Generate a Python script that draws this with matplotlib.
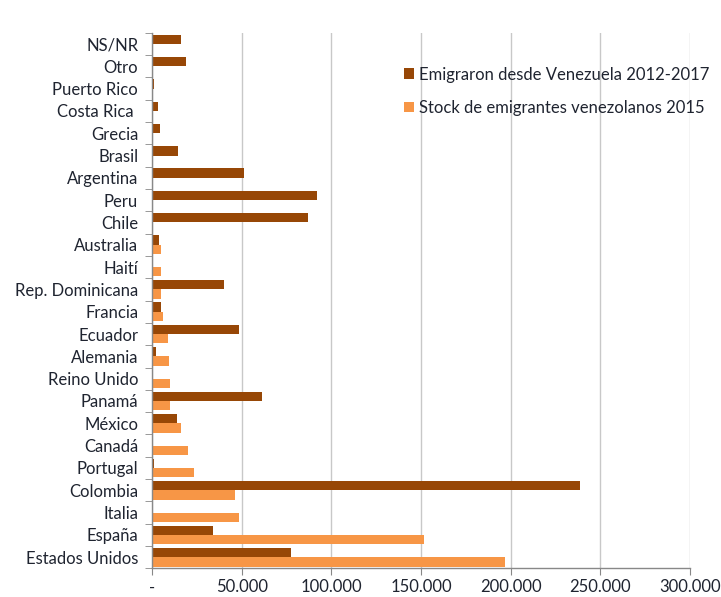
import numpy as np
import matplotlib.pyplot as plt
from matplotlib.ticker import FixedLocator

paises = ['NS/NR', 'Otro', 'Puerto Rico', 'Costa Rica ', 'Grecia', 'Brasil',
          'Argentina', 'Peru', 'Chile', 'Australia', 'Haití', 'Rep. Dominicana',
          'Francia', 'Ecuador', 'Alemania', 'Reino Unido', 'Panamá', 'México',
          'Canadá', 'Portugal', 'Colombia', 'Italia', 'España', 'Estados Unidos']

emigraron = [16000, 19000, 1000, 3000, 4500, 14500,
             51500, 92000, 87000, 4000, 0, 40000,
             5000, 48500, 2000, 0, 61500, 14000,
             0, 1000, 238500, 0, 33700, 77200]

stock_2015 = [0, 500, 500, 0, 0, 0,
              0, 0, 0, 5000, 5000, 5200,
              6000, 9000, 9200, 9800, 10000, 16000,
              19800, 23300, 46300, 48700, 151400, 197000]

xticks = [0, 50000, 100000, 150000, 200000, 250000, 300000]
xlabels = ['-', '50.000', '100.000', '150.000', '200.000', '250.000', '300.000']

plt.rcParams['font.family'] = ['Lato', 'DejaVu Sans']
txt = '#1f2430'
fs = 12

fig = plt.figure(figsize=(7.21, 5.97), dpi=100)
ax = fig.add_axes([0.211, 0.048, 0.746, 0.897])

n = len(paises)
y = np.arange(n)[::-1]
h = 0.42
ax.barh(y + h / 2, emigraron, height=h, color='#974706',
        label='Emigraron desde Venezuela 2012-2017', zorder=3)
ax.barh(y - h / 2, stock_2015, height=h, color='#F79646',
        label='Stock de emigrantes venezolanos 2015', zorder=3)

ax.set_xlim(0, 300000)
ax.set_ylim(-0.5, n - 0.5)
ax.set_xticks(xticks)
ax.set_xticklabels(xlabels, fontsize=fs, color=txt)
ax.set_yticks(y)
ax.set_yticklabels(paises, fontsize=fs, color=txt)
ax.yaxis.set_minor_locator(FixedLocator(np.arange(-0.5, n, 1)))
ax.tick_params(axis='y', which='major', length=0, pad=10)
ax.tick_params(axis='y', which='minor', length=5, color='#888888')
ax.tick_params(axis='x', length=5, color='#888888', pad=3)

ax.grid(axis='x', color='#c8c8c8', linewidth=1, zorder=0)
for s in ['top', 'right']:
    ax.spines[s].set_visible(False)
for s in ['left', 'bottom']:
    ax.spines[s].set_color('#888888')
    ax.spines[s].set_linewidth(1)
    ax.spines[s].set_zorder(4)

leg = ax.legend(loc='upper left', bbox_to_anchor=(0.44, 0.965), frameon=False,
                fontsize=fs, handlelength=0.6, handleheight=0.6,
                handletextpad=0.3, labelspacing=1.05)
for t in leg.get_texts():
    t.set_color(txt)

fig.savefig('out.png', dpi=100)
